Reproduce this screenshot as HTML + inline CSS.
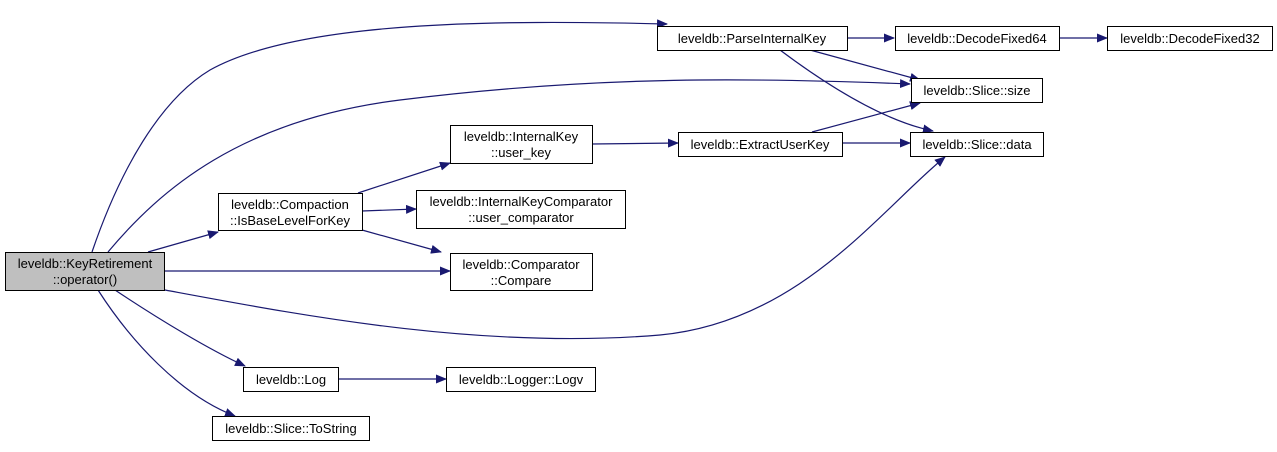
<!DOCTYPE html>
<html><head><meta charset="utf-8"><style>
body{margin:0;background:#fff}
text{font-family:"Liberation Sans",sans-serif;font-size:13px;fill:#000}
</style></head><body>
<svg width="1277" height="447" viewBox="0 0 1277 447" xmlns="http://www.w3.org/2000/svg">
<defs><marker id="a" markerWidth="11" markerHeight="9" refX="10" refY="4.5" orient="auto" markerUnits="userSpaceOnUse"><path d="M0,0 L11,4.5 L0,9 z" fill="#191970"/></marker></defs>
<g fill="none" stroke="#191970" stroke-width="1.2" marker-end="url(#a)">
<path d="M92,252 C120,170 160,100 210,70 C300,20 500,20 667,24"/>
<path d="M108,252 C160,190 240,120 400,100 C600,75 760,78 910,84"/>
<path d="M148,252 L218,232"/>
<path d="M165,271 L450,271"/>
<path d="M165,290 C300,315 480,350 660,335 C800,322 880,210 945,157"/>
<path d="M115,290 C160,320 210,350 245,366"/>
<path d="M98,290 C130,340 180,395 235,416"/>
<path d="M358,193 L450,163"/>
<path d="M362,211 L416,209"/>
<path d="M362,230 L441,252"/>
<path d="M592,144 L678,143"/>
<path d="M812,132 L920,103"/>
<path d="M842,143 L910,143"/>
<path d="M810,50 L920,80"/>
<path d="M780,50 C820,80 880,120 933,131"/>
<path d="M847,38 L894,38"/>
<path d="M1059,38 L1107,38"/>
<path d="M338,379 L446,379"/>
</g>
<g stroke="#000" stroke-width="1" fill="#fff">
<rect x="5.5" y="252.5" width="159" height="38" fill="#bfbfbf"/>
<rect x="218.5" y="193.5" width="144" height="37"/>
<rect x="416.5" y="190.5" width="209" height="38"/>
<rect x="450.5" y="253.5" width="142" height="37"/>
<rect x="243.5" y="367.5" width="95" height="24"/>
<rect x="446.5" y="367.5" width="149" height="24"/>
<rect x="212.5" y="416.5" width="157" height="24"/>
<rect x="450.5" y="125.5" width="142" height="38"/>
<rect x="657.5" y="26.5" width="190" height="24"/>
<rect x="895.5" y="26.5" width="164" height="24"/>
<rect x="1107.5" y="26.5" width="165" height="24"/>
<rect x="911.5" y="78.5" width="131" height="24"/>
<rect x="910.5" y="132.5" width="133" height="24"/>
<rect x="678.5" y="132.5" width="164" height="24"/>
</g>
<g text-anchor="middle">
<text x="85" y="268">leveldb::KeyRetirement</text><text x="85" y="284">::operator()</text>
<text x="290" y="209">leveldb::Compaction</text><text x="290" y="225">::IsBaseLevelForKey</text>
<text x="521" y="206">leveldb::InternalKeyComparator</text><text x="521" y="222">::user_comparator</text>
<text x="521" y="269">leveldb::Comparator</text><text x="521" y="285">::Compare</text>
<text x="291" y="384">leveldb::Log</text>
<text x="521" y="384">leveldb::Logger::Logv</text>
<text x="291" y="433">leveldb::Slice::ToString</text>
<text x="521" y="141">leveldb::InternalKey</text><text x="521" y="157">::user_key</text>
<text x="752" y="43">leveldb::ParseInternalKey</text>
<text x="977" y="43">leveldb::DecodeFixed64</text>
<text x="1190" y="43">leveldb::DecodeFixed32</text>
<text x="977" y="95">leveldb::Slice::size</text>
<text x="977" y="149">leveldb::Slice::data</text>
<text x="760" y="149">leveldb::ExtractUserKey</text>
</g>
</svg>
</body></html>
